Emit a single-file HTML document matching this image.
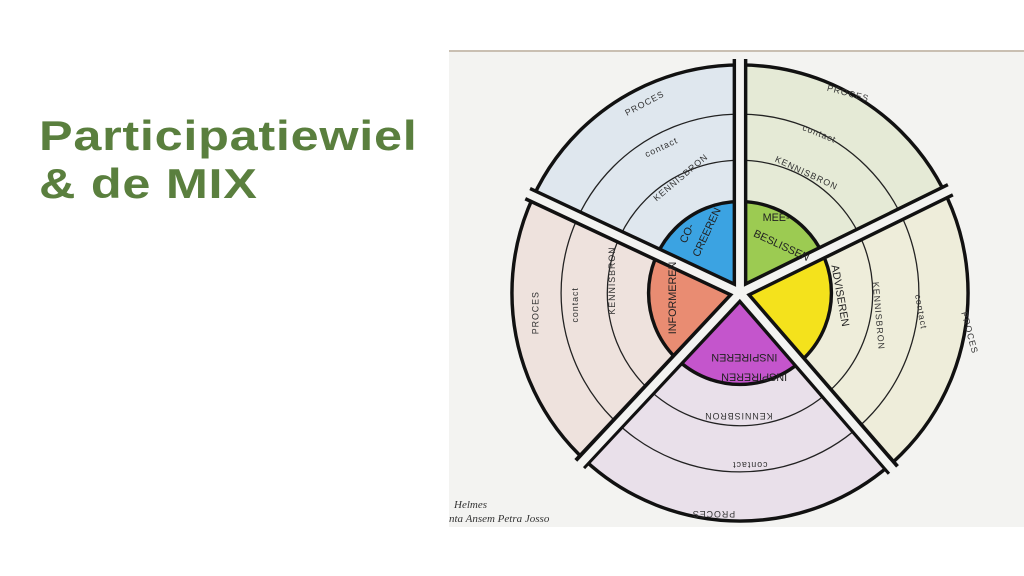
<!DOCTYPE html>
<html><head><meta charset="utf-8"><style>
body{margin:0;width:1024px;height:576px;background:#fff;overflow:hidden;position:relative;font-family:"Liberation Sans",sans-serif}
h1{position:absolute;left:39px;top:112px;margin:0;font-size:42px;line-height:48px;font-weight:bold;color:#5a7f3e;letter-spacing:0.6px;transform:scaleX(1.2);transform-origin:0 0;white-space:nowrap}
svg{position:absolute;left:0;top:0}
.t{font-family:"Liberation Sans",sans-serif;font-size:9px;fill:#333;letter-spacing:1px}
.b{font-family:"Liberation Sans",sans-serif;font-size:11px;fill:#222}
</style></head><body>
<h1>Participatiewiel<br>&amp; de MIX</h1>
<svg width="1024" height="576" viewBox="0 0 1024 576">
<rect x="449" y="50" width="575" height="477" fill="#f3f3f1"/>
<rect x="449" y="50" width="575" height="2" fill="#c9bfb2"/>
<g transform="translate(740,293) scale(0.983) translate(-727,-298)">
<g stroke="none">
<path d="M727 298 L727 66 A232 232 0 0 1 935.5 196.3Z" fill="#e5ead6"/>
<path d="M727 298 L935.5 196.3 A232 232 0 0 1 879.2 473.1Z" fill="#eeedda"/>
<path d="M727 298 L879.2 473.1 A232 232 0 0 1 568.8 467.6Z" fill="#e9e0ea"/>
<path d="M727 298 L568.8 467.6 A232 232 0 0 1 516.8 199.9Z" fill="#eee2dd"/>
<path d="M727 298 L516.8 199.9 A232 232 0 0 1 727 66Z" fill="#dfe7ee"/>
</g>
<circle cx="727" cy="298" r="232" fill="none" stroke="#111" stroke-width="3.5"/>
<circle cx="727" cy="298" r="182" fill="none" stroke="#222" stroke-width="1.3"/>
<circle cx="727" cy="298" r="135" fill="none" stroke="#222" stroke-width="1.3"/>
<g>
<path d="M727 298 L727 205 A93 93 0 0 1 810.6 257.2Z" fill="#9ccb52"/>
<path d="M727 298 L810.6 257.2 A93 93 0 0 1 788 368.2Z" fill="#f4e21c"/>
<path d="M727 298 L788 368.2 A93 93 0 0 1 663.6 366Z" fill="#c455cc"/>
<path d="M727 298 L663.6 366 A93 93 0 0 1 642.7 258.7Z" fill="#e98c72"/>
<path d="M727 298 L642.7 258.7 A93 93 0 0 1 727 205Z" fill="#3ba3e2"/>
</g>
<circle cx="727" cy="298" r="93" fill="none" stroke="#111" stroke-width="3.5"/>
<g stroke-linecap="butt">
<g stroke="#111" stroke-width="15">
<line x1="727" y1="298" x2="727" y2="60"/>
<line x1="727" y1="298" x2="941" y2="193"/>
<line x1="727" y1="298" x2="883" y2="478"/>
<line x1="727" y1="298" x2="564" y2="472"/>
<line x1="727" y1="298" x2="511" y2="197"/>
</g>
<g stroke="#f3f3f1" stroke-width="8">
<line x1="727" y1="298" x2="727" y2="56"/>
<line x1="727" y1="298" x2="945" y2="191"/>
<line x1="727" y1="298" x2="886" y2="482"/>
<line x1="727" y1="298" x2="561" y2="476"/>
<line x1="727" y1="298" x2="507" y2="195"/>
</g>
</g>
<text class="t" transform="translate(612,118) rotate(-28)">PROCES</text>
<text class="t" transform="translate(632,160) rotate(-25)">contact</text>
<text class="t" transform="translate(642,205) rotate(-40)">KENNISBRON</text>
<text class="t" transform="translate(815,92) rotate(15)">PROCES</text>
<text class="t" transform="translate(790,132) rotate(22)">contact</text>
<text class="t" transform="translate(762,164) rotate(25)">KENNISBRON</text>
<text class="t" transform="translate(952,318) rotate(75)">PROCES</text>
<text class="t" transform="translate(905,300) rotate(80)">contact</text>
<text class="t" transform="translate(862,287) rotate(85)">KENNISBRON</text>
<text class="t" transform="translate(760,420) rotate(180)">KENNISBRON</text>
<text class="t" transform="translate(755,470) rotate(180)">contact</text>
<text class="t" transform="translate(722,520) rotate(180)">PROCES</text>
<text class="t" transform="translate(522,340) rotate(-90)">PROCES</text>
<text class="t" transform="translate(562,328) rotate(-90)">contact</text>
<text class="t" transform="translate(600,320) rotate(-90)">KENNISBRON</text>
<text class="b" transform="translate(672,248) rotate(-65)">CO-</text>
<text class="b" transform="translate(685,262) rotate(-65)">CREEREN</text>
<text class="b" transform="translate(750,225)">MEE-</text>
<text class="b" transform="translate(740,240) rotate(25)">BESLISSEN</text>
<text class="b" transform="translate(820,270) rotate(80)">ADVISEREN</text>
<text class="b" transform="translate(765,360) rotate(180)">INSPIREREN</text>
<text class="b" transform="translate(775,380) rotate(180)">INSPIREREN</text>
<text class="b" transform="translate(662,340) rotate(-90)">INFORMEREN</text>
</g>
<text style="font-family:'Liberation Serif',serif;font-style:italic;font-size:11px;fill:#333" x="454" y="508">Helmes</text>
<text style="font-family:'Liberation Serif',serif;font-style:italic;font-size:11px;fill:#333" x="449" y="522">nta Ansem  Petra Josso</text>
</svg>
</body></html>
